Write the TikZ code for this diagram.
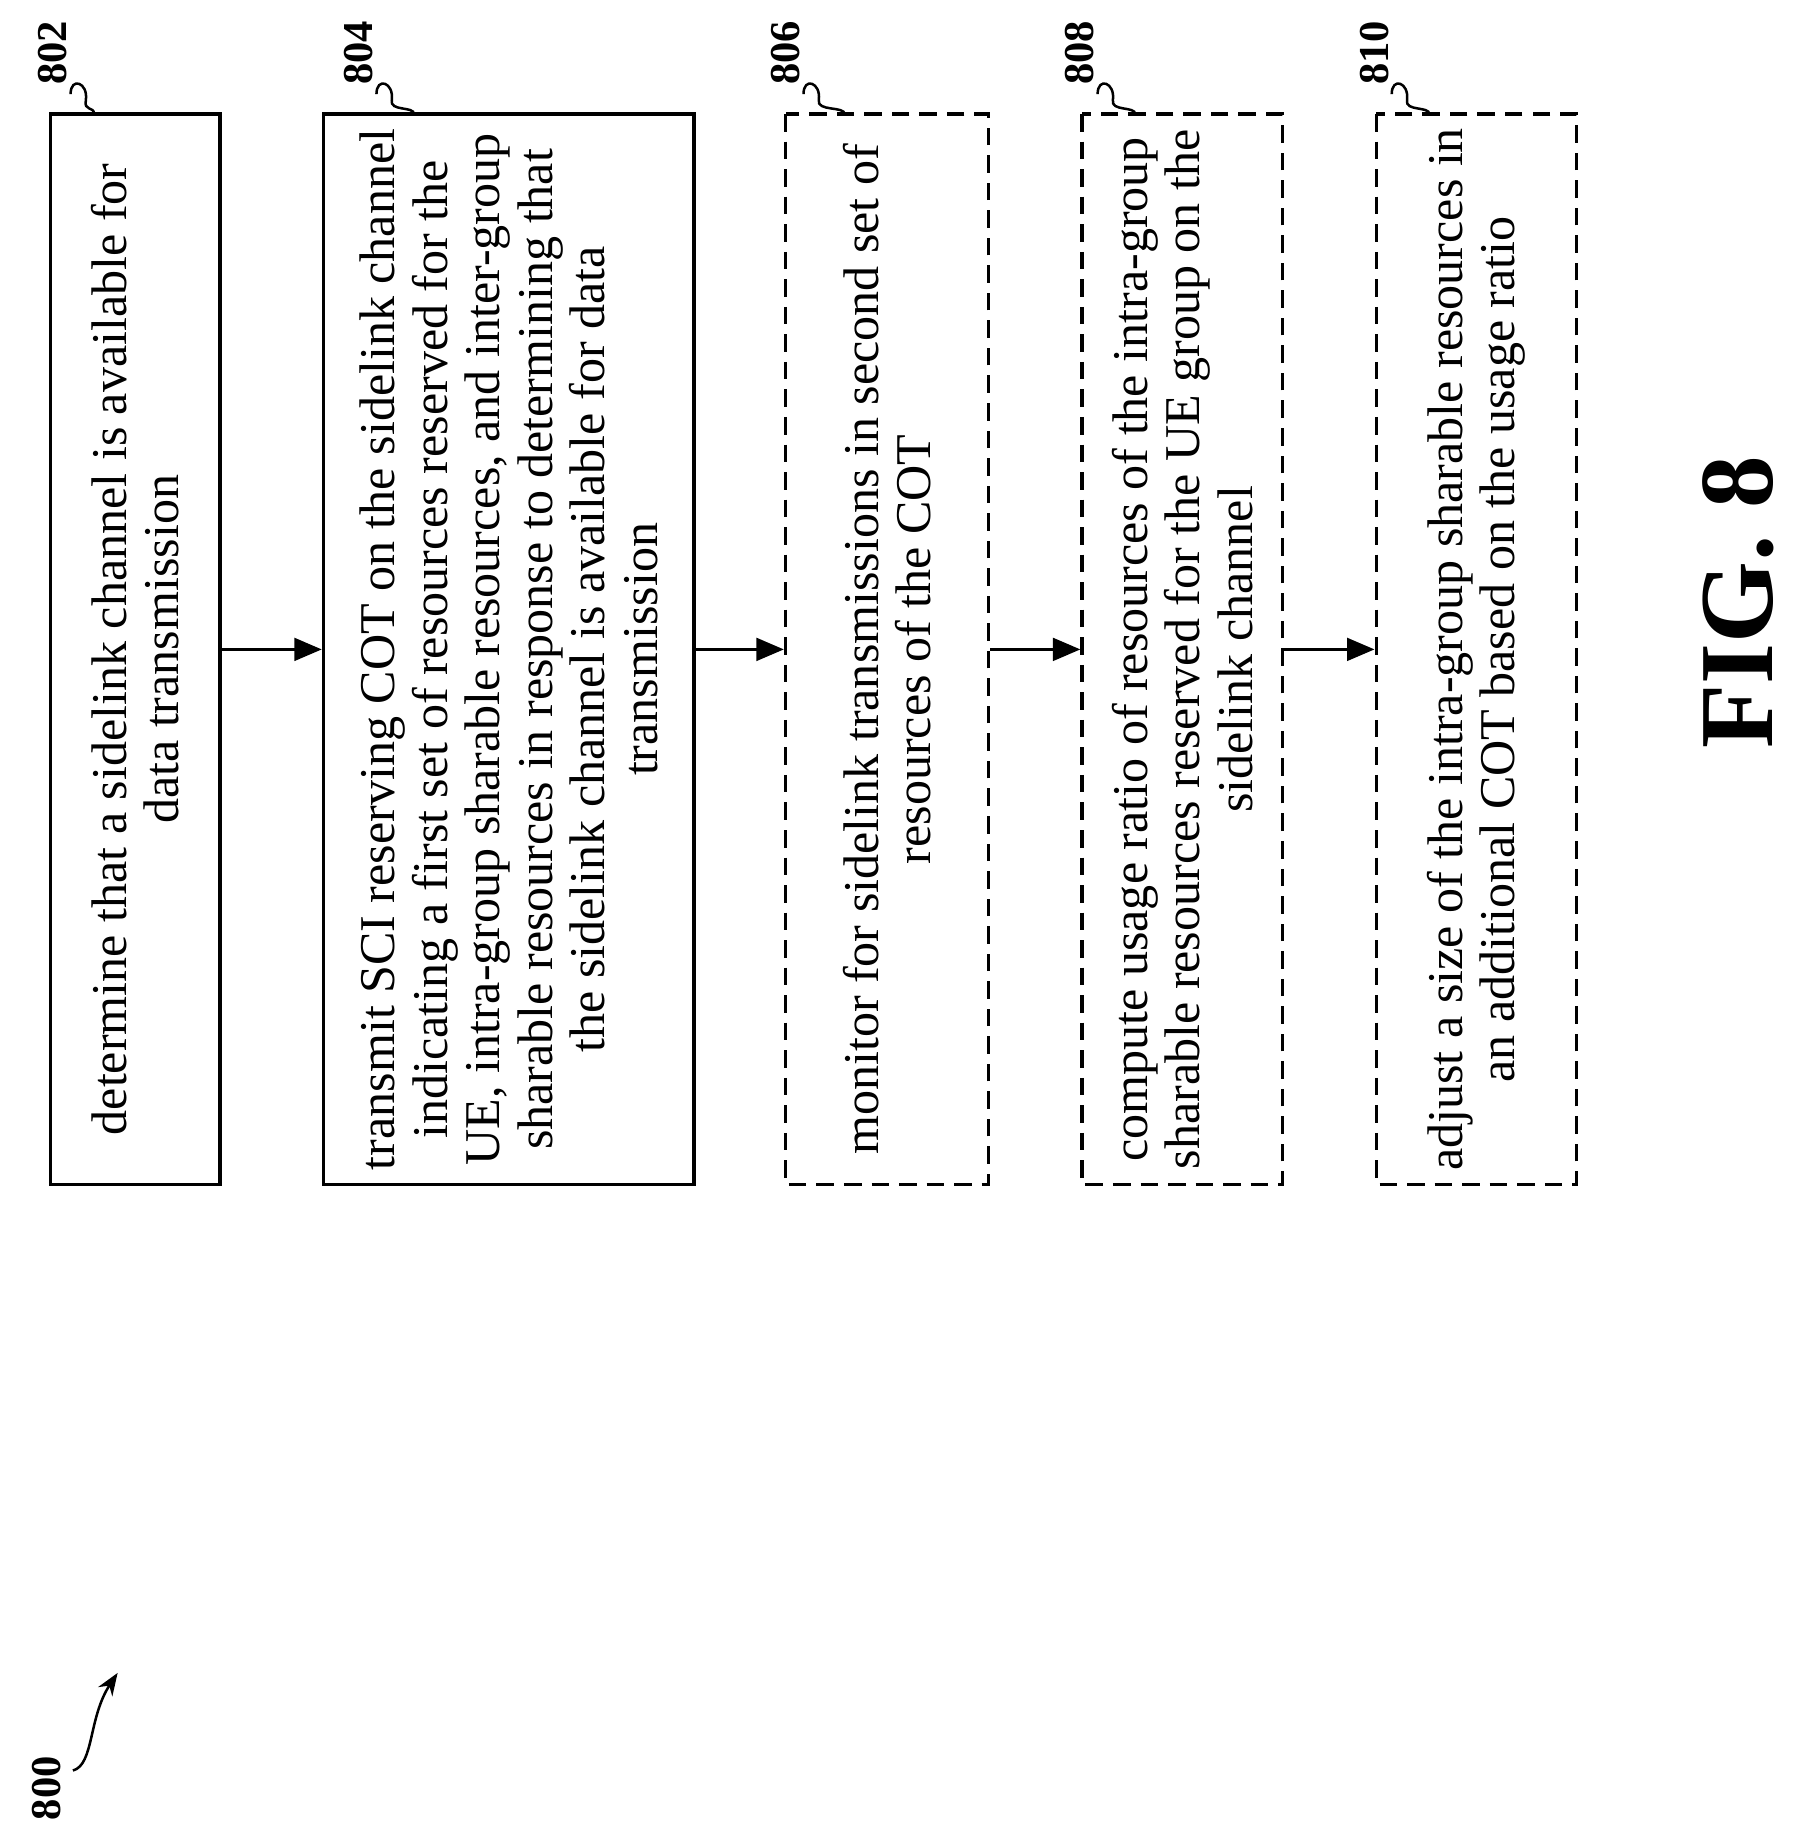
\documentclass[tikz,border=0pt]{standalone}
\usepackage{fontspec}
\setmainfont{Liberation Serif}
\usetikzlibrary{positioning,arrows.meta}

\begin{document}
\begin{tikzpicture}[
    x=0.47pt, y=-0.47pt, thick,
    block/.style={draw, line width=1.4pt, rotate=90, minimum width=427.7pt,
        inner sep=0pt, align=center, font={\fontsize{20}{21}\selectfont}},
    opt/.style={block, dash pattern=on 7pt off 4pt},
    tag/.style={rotate=90, font={\fontsize{17}{20}\selectfont\bfseries}},
    flow/.style={-{Triangle[length=11pt,width=9pt]}, line width=1.4pt}
]
    \useasboundingbox (0,0) rectangle (1530,1570);

    % Steps
    \node[block, minimum height=67.7pt] (s802) at (115,552)
        {determine that a sidelink channel is available for\\data transmission};
    \node[block, minimum height=148pt] (s804) at (432.5,552)
        {transmit SCI reserving COT on the sidelink channel\\indicating a first set of resources reserved for the\\UE, intra-group sharable resources, and inter-group\\sharable resources in response to determining that\\the sidelink channel is available for data\\transmission};
    \node[opt, minimum height=81pt] (s806) at (754,552)
        {monitor for sidelink transmissions in second set of\\resources of the COT};
    \node[opt, minimum height=80pt] (s808) at (1005,552)
        {compute usage ratio of resources of the intra-group\\sharable resources reserved for the UE group on the\\sidelink channel};
    \node[opt, minimum height=80pt] (s810) at (1255,552)
        {adjust a size of the intra-group sharable resources in\\an additional COT based on the usage ratio};

    % Arrows between steps
    \draw[flow] (s802.south) -- (s804.north);
    \draw[flow] (s804.south) -- (s806.north);
    \draw[flow] (s806.south) -- (s808.north);
    \draw[flow] (s808.south) -- (s810.north);

    % Reference labels
    \foreach \n/\x/\bx in {802/45/80, 804/305/352, 806/668/718, 808/918/965, 810/1168/1215} {
        \node[tag] (t\n) at (\x,45) {\n};
        \draw[line width=1pt] (\x+15,80) .. controls (\x+15,65) and (\x+30,70) .. (\x+28,85)
            .. controls (\x+26,95) and (\bx,90) .. (\bx,97);
    }

    % Figure label
    \node[tag] (t800) at (40,1520) {800};
    \coordinate (a800) at (100,1422);
    \draw[-{Stealth[length=9pt]}, line width=1pt] (62,1505) .. controls (80,1500) and (75,1460) .. (a800);

    \node[rotate=90, font={\fontsize{42}{48}\selectfont\bfseries}] (fig) at (1478,512) {FIG. 8};
\end{tikzpicture}
\end{document}
